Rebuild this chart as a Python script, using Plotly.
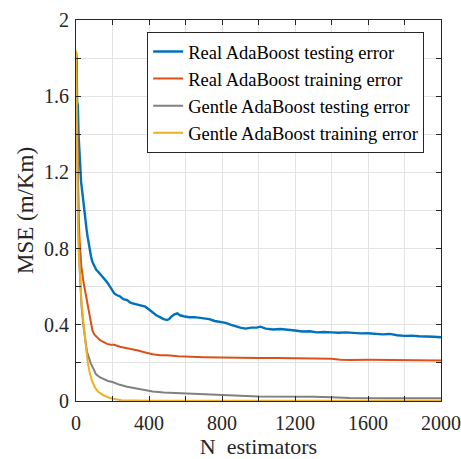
import plotly.graph_objects as go

# ---- data ----
blue_n = [0, 3, 6, 10, 14, 18, 22, 28, 34, 40, 46, 52, 58, 64, 70, 76, 82, 90, 100, 110, 120, 130,
          140, 150, 165, 180, 195, 210, 225, 240, 260, 280, 300, 320, 340, 360, 380, 400, 420, 440,
          460, 480, 500, 510, 525, 540, 555, 570, 590, 620, 650, 680, 700, 730, 760, 790, 820, 850,
          880, 900, 930, 960, 990, 1010, 1040, 1080, 1120, 1160, 1200, 1240, 1280, 1320, 1360, 1400,
          1440, 1480, 1520, 1560, 1600, 1640, 1680, 1720, 1760, 1800, 1840, 1880, 1920, 1960, 2000]
blue_v = [1.83, 1.80, 1.57, 1.55, 1.40, 1.30, 1.22, 1.15, 1.10, 1.04, 0.98, 0.93, 0.90, 0.86, 0.82,
          0.79, 0.76, 0.73, 0.71, 0.69, 0.68, 0.67, 0.66, 0.65, 0.63, 0.61, 0.59, 0.565, 0.555, 0.55,
          0.535, 0.53, 0.515, 0.51, 0.505, 0.50, 0.495, 0.48, 0.465, 0.45, 0.44, 0.43, 0.425, 0.43,
          0.445, 0.455, 0.46, 0.45, 0.445, 0.44, 0.44, 0.435, 0.435, 0.43, 0.42, 0.415, 0.41, 0.40,
          0.39, 0.385, 0.38, 0.385, 0.385, 0.39, 0.38, 0.375, 0.378, 0.372, 0.37, 0.365, 0.366, 0.36,
          0.362, 0.36, 0.358, 0.36, 0.357, 0.355, 0.356, 0.352, 0.35, 0.352, 0.345, 0.342, 0.343,
          0.34, 0.34, 0.337, 0.335]

red_n = [0, 3, 6, 10, 15, 20, 25, 30, 40, 50, 60, 70, 80, 90, 100, 115, 130, 150, 170, 190, 210,
         240, 270, 300, 340, 380, 420, 460, 500, 560, 620, 700, 800, 900, 1000, 1100, 1200, 1300,
         1400, 1450, 1500, 1600, 1700, 1800, 1900, 2000]
red_v = [1.83, 1.65, 1.40, 1.15, 0.95, 0.84, 0.76, 0.70, 0.63, 0.58, 0.52, 0.46, 0.41, 0.37, 0.35,
         0.335, 0.32, 0.31, 0.30, 0.295, 0.295, 0.285, 0.28, 0.275, 0.265, 0.255, 0.245, 0.24, 0.24,
         0.235, 0.232, 0.23, 0.228, 0.226, 0.226, 0.226, 0.225, 0.225, 0.222, 0.217, 0.215, 0.216,
         0.215, 0.214, 0.215, 0.213]

gray_n = [0, 3, 6, 10, 15, 20, 25, 30, 40, 50, 60, 70, 80, 95, 110, 130, 150, 175, 200, 240, 280,
          320, 370, 420, 480, 540, 600, 700, 800, 900, 1000, 1100, 1200, 1300, 1400, 1450, 1500,
          1700, 2000]
gray_v = [1.83, 1.60, 1.35, 1.10, 0.85, 0.70, 0.58, 0.50, 0.40, 0.32, 0.26, 0.23, 0.20, 0.17, 0.14,
          0.125, 0.115, 0.105, 0.10, 0.085, 0.075, 0.068, 0.058, 0.05, 0.045, 0.042, 0.04, 0.035,
          0.03, 0.027, 0.024, 0.024, 0.023, 0.022, 0.02, 0.017, 0.016, 0.015, 0.014]

yellow_n = [0, 3, 6, 10, 15, 20, 25, 30, 38, 45, 55, 65, 77, 90, 105, 120, 150, 180, 210, 250, 300,
            400, 2000]
yellow_v = [1.84, 1.45, 1.15, 0.95, 0.78, 0.67, 0.58, 0.52, 0.44, 0.36, 0.28, 0.20, 0.14, 0.10,
            0.07, 0.05, 0.03, 0.018, 0.01, 0.004, 0.002, 0.001, 0.001]

series_names = ["Real AdaBoost testing error", "Real AdaBoost training error",
                "Gentle AdaBoost testing error", "Gentle AdaBoost training error"]
x_ticks = [0, 400, 800, 1200, 1600, 2000]
y_ticks = [0, 0.4, 0.8, 1.2, 1.6, 2]
y_tick_labels = ["0", "0.4", "0.8", "1.2", "1.6", "2"]

colors = ["#0072BD", "#D95319", "#808080", "#EDB120"]
widths = [2.4, 2, 2, 2]

FONT = "Liberation Serif, Times New Roman, serif"

fig = go.Figure()
for n, v, name, c, w in zip([blue_n, red_n, gray_n, yellow_n], [blue_v, red_v, gray_v, yellow_v],
                            series_names, colors, widths):
    fig.add_trace(go.Scatter(x=n, y=v, mode="lines", name=name,
                             line=dict(color=c, width=w)))

axis_common = dict(
    showline=True, linecolor="#262626", linewidth=1, mirror="ticks",
    ticks="inside", ticklen=5, tickcolor="#262626",
    showgrid=True, gridcolor="#e3e3e3", gridwidth=1, zeroline=False,
    tickfont=dict(family=FONT, size=20, color="#262626"),
    automargin=False,
)

fig.update_xaxes(
    range=[0, 2000], tickvals=x_ticks, ticktext=[str(t) for t in x_ticks],
    minor=dict(dtick=200, tick0=0, ticks="inside", ticklen=5, tickcolor="#262626",
               showgrid=True, gridcolor="#e3e3e3"),
    title=dict(text="N  estimators", font=dict(family=FONT, size=22, color="#262626"), standoff=8),
    ticklabelstandoff=4,
    **axis_common,
)
fig.update_yaxes(
    range=[0, 2], tickvals=y_ticks, ticktext=y_tick_labels,
    minor=dict(dtick=0.2, tick0=0, ticks="inside", ticklen=5, tickcolor="#262626",
               showgrid=True, gridcolor="#e3e3e3"),
    title=dict(text="MSE (m/Km)", font=dict(family=FONT, size=23, color="#262626"), standoff=3),
    ticklabelstandoff=2,
    **axis_common,
)

fig.update_layout(
    width=461, height=459,
    margin=dict(l=76, r=20, t=20, b=58, autoexpand=False),
    paper_bgcolor="white", plot_bgcolor="white",
    showlegend=True,
    legend=dict(x=0.195, y=0.9685, xanchor="left", yanchor="top",
                bgcolor="white", bordercolor="#262626", borderwidth=1,
                font=dict(family=FONT, size=18.5, color="#000000"),
                tracegroupgap=0, itemwidth=30),
)

fig.write_html("out.html", config={"displayModeBar": False},
               post_script="document.body.style.margin='0';document.body.style.overflow='hidden';")
